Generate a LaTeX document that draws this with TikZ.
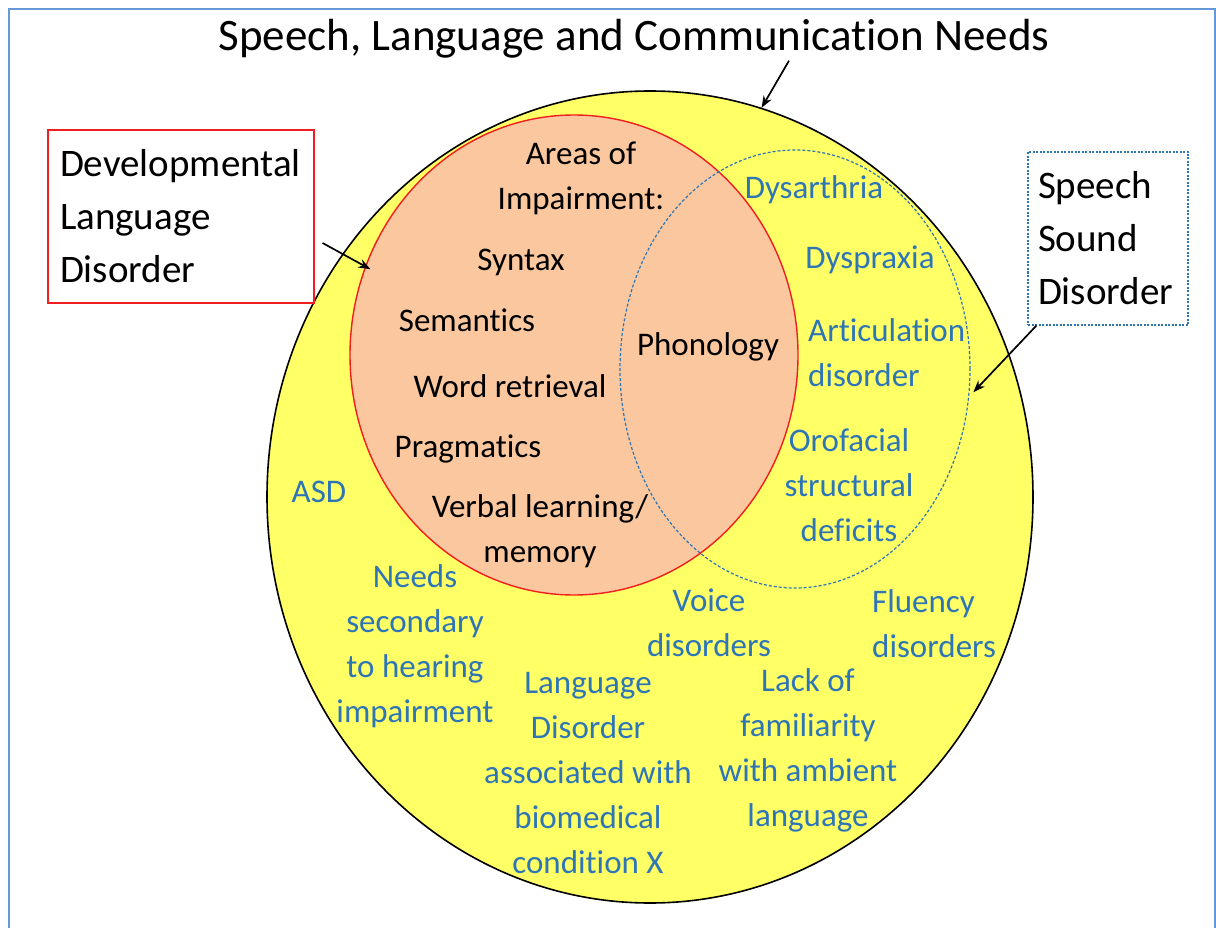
\documentclass[tikz,border=0pt]{standalone}
\usepackage{fontspec}
\setmainfont{Carlito}[Ligatures=NoCommon]
\usetikzlibrary{shapes.geometric,arrows.meta,positioning}
\definecolor{lyellow}{RGB}{255, 255, 102}
\definecolor{lorange}{RGB}{250, 199, 158}
\definecolor{dblue}{RGB}{46, 117, 182}
\definecolor{fblue}{RGB}{100, 152, 214}
\definecolor{lred}{RGB}{240, 30, 30}
\tikzstyle{area} = [ellipse, inner sep=0pt]
\tikzstyle{term} = [font=\fontsize{33}{45}\selectfont, align=center, inner sep=0pt]
\tikzstyle{need} = [term, text=dblue]
\tikzstyle{legendbox} = [rectangle, font=\fontsize{39}{53}\selectfont, align=left, inner sep=0pt]
\tikzstyle{pointer} = [draw, line width=1.7pt, -{Stealth[length=12pt,width=9pt]}]

\begin{document}
\begin{tikzpicture}[x=1pt,y=-1pt]

  \useasboundingbox (0,0) rectangle (1216,928);
  \draw[fblue, line width=2pt] (9,928) -- (9,9) -- (1215,9) -- (1215,928);

  \node[font=\fontsize{45}{54}\selectfont, inner sep=0pt] (title) at (634,39) {Speech, Language and Communication Needs};

  %%%%%%%%%%%%%%%%%%%%%%%%%%%%%%%%%%%%%%%%%%%%%%%%%%%%%%%%%%%%%%
  %                    AREAS                                   %
  %%%%%%%%%%%%%%%%%%%%%%%%%%%%%%%%%%%%%%%%%%%%%%%%%%%%%%%%%%%%%%

  \node[area, minimum width=766pt, minimum height=812pt,
    draw=black, line width=1.6pt, fill=lyellow] (needs) at (650,497) {};
  \node[area, minimum width=448pt, minimum height=480pt,
    draw=lred, line width=1.4pt, fill=lorange] (dld-area) at (574,355) {};
  \node[area, minimum width=350pt, minimum height=438pt,
    draw=dblue, line width=1.2pt, dash pattern=on 3pt off 2pt] (ssd-area) at (795,369) {};

  %%%%%%%%%%%%%%%%%%%%%%%%%%%%%%%%%%%%%%%%%%%%%%%%%%%%%%%%%%%%%%
  %                    LEGEND BOXES                            %
  %%%%%%%%%%%%%%%%%%%%%%%%%%%%%%%%%%%%%%%%%%%%%%%%%%%%%%%%%%%%%%

  \node[legendbox, draw=lred, line width=1.2pt,
    minimum width=266pt, minimum height=173pt, text width=242pt] (dld-box) at (181,216.5) {
    Developmental\\Language\\Disorder
  };
  \node[legendbox, draw=dblue, line width=1.1pt, dash pattern=on 2pt off 1.5pt,
    minimum width=160pt, minimum height=173pt, text width=140pt] (ssd-box) at (1108,238.5) {
    Speech\\Sound\\Disorder
  };

  %%%%%%%%%%%%%%%%%%%%%%%%%%%%%%%%%%%%%%%%%%%%%%%%%%%%%%%%%%%%%%
  %                    DLD TERMS                               %
  %%%%%%%%%%%%%%%%%%%%%%%%%%%%%%%%%%%%%%%%%%%%%%%%%%%%%%%%%%%%%%

  \node[term] (areas) at (581,178) {Areas of\\Impairment:};
  \node[term] (syntax) at (521,262) {Syntax};
  \node[term] (semantics) at (467,320) {Semantics};
  \node[term] (retrieval) at (510,386) {Word retrieval};
  \node[term] (pragmatics) at (468,449) {Pragmatics};
  \node[term] (verbal) at (540,531) {Verbal learning/\\memory};
  \node[term] (phonology) at (708,347) {Phonology};

  %%%%%%%%%%%%%%%%%%%%%%%%%%%%%%%%%%%%%%%%%%%%%%%%%%%%%%%%%%%%%%
  %                    OTHER NEEDS                             %
  %%%%%%%%%%%%%%%%%%%%%%%%%%%%%%%%%%%%%%%%%%%%%%%%%%%%%%%%%%%%%%

  \node[need] (dysarthria) at (814,190) {Dysarthria};
  \node[need] (dyspraxia) at (870,260) {Dyspraxia};
  \node[need, align=left, anchor=west] (articulation) at (808,353) {Articulation\\disorder};
  \node[need] (orofacial) at (849,485) {Orofacial\\structural\\deficits};
  \node[need] (asd) at (319,492) {ASD};
  \node[need] (hearing) at (415,646) {Needs\\secondary\\to hearing\\impairment};
  \node[need] (voice) at (709,623) {Voice\\disorders};
  \node[need, align=left, anchor=west] (fluency) at (872,624) {Fluency\\disorders};
  \node[need] (biomedical) at (588,773) {Language\\Disorder\\associated with\\biomedical\\condition X};
  \node[need] (ambient) at (808,750) {Lack of\\familiarity\\with ambient\\language};

  \draw[pointer] ([xshift=155pt,yshift=-2pt]title.south) -- (needs.74);
  \draw[pointer, shorten >=-6pt] ([xshift=8pt,yshift=-26.5pt]dld-box.east) -- (dld-area.157);
  \draw[pointer, shorten >=6pt] ([xshift=9pt]ssd-box.south west) -- (ssd-area.-9);

\end{tikzpicture}
\end{document}
